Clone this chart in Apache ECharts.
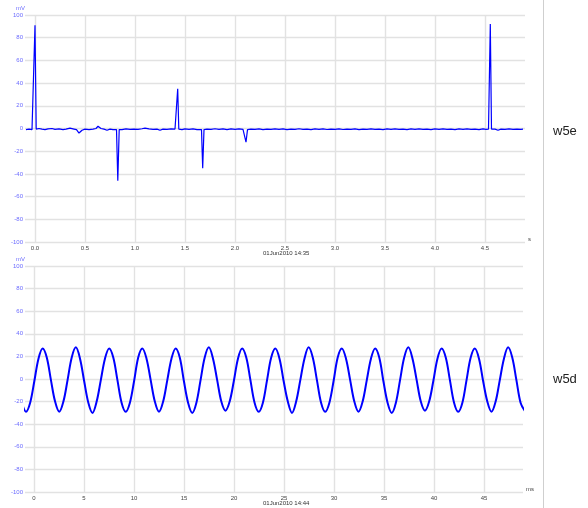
<!DOCTYPE html>
<html><head><meta charset="utf-8">
<script src="https://cdn.jsdelivr.net/npm/echarts@6/dist/echarts.min.js"></script>
<style>html,body{margin:0;padding:0;background:#fff}#c{width:588px;height:508px}</style>
</head><body><div id="c"></div>
<script>
// ---- data ----
const panelNames = ['w5e', 'w5d'];
const panelDates = ['01Jun2010 14:35', '01Jun2010 14:44'];
const yUnit = 'mV';
const topUnit = 's';
const bottomUnit = 'ms';
const topTicks = [0, 0.5, 1.0, 1.5, 2.0, 2.5, 3.0, 3.5, 4.0, 4.5];
const bottomTicks = [0, 5, 10, 15, 20, 25, 30, 35, 40, 45];

// top trace: [time s, mV]
const topSignal = [
  [-0.09,-1],[-0.06,-0.5],[-0.03,-1],[-0.012,-0.6],[0.0,91],[0.012,-0.5],[0.04,0],[0.07,-0.6],
  [0.1,-1],[0.13,-0.4],[0.17,0],[0.2,-0.8],[0.24,-0.3],[0.28,-1],[0.31,-0.5],[0.35,0.3],
  [0.39,-0.5],[0.415,-1],[0.44,-4],[0.47,-1.5],[0.5,-0.5],[0.54,-1],[0.58,-0.5],[0.61,0],
  [0.63,2],[0.66,0],[0.69,-0.5],[0.72,-1.5],[0.75,-0.5],[0.78,-1],[0.815,-1],[0.828,-46],
  [0.842,-1],[0.87,-1],[0.91,-0.3],[0.95,-0.8],[0.99,-0.5],[1.03,-0.8],[1.07,-0.2],[1.1,0.3],
  [1.14,-0.3],[1.18,-0.8],[1.22,-0.5],[1.25,-1.5],[1.28,-0.5],[1.32,-0.8],[1.36,-0.3],[1.4,-0.5],
  [1.417,-0.5],[1.427,35],[1.438,-0.5],[1.47,-1],[1.5,-0.3],[1.54,-0.8],[1.58,-0.3],[1.62,-1],
  [1.665,-1],[1.677,-35],[1.69,-1],[1.72,-0.5],[1.76,-0.8],[1.8,-0.2],[1.84,-0.7],[1.88,-0.3],
  [1.92,-1],[1.96,-0.4],[2.0,-0.8],[2.04,-0.3],[2.08,-0.8],[2.1,-1],[2.11,-12],[2.125,-1],
  [2.16,-0.5],[2.2,-0.8],[2.24,-0.3],[2.28,-1],[2.32,-0.5],[2.36,-0.8],[2.4,-0.3],[2.44,-0.7],
  [2.48,-0.4],[2.52,-1],[2.56,-0.5],[2.6,-0.7],[2.64,-0.2],[2.68,-0.8],[2.72,-0.5],[2.76,-1],
  [2.8,-0.4],[2.84,-0.7],[2.88,-0.3],[2.92,-0.9],[2.96,-0.5],[3.0,-0.7],[3.04,-0.3],[3.08,-0.9],
  [3.12,-0.5],[3.16,-0.8],[3.2,-0.4],[3.24,-1],[3.28,-0.5],[3.32,-0.7],[3.36,-0.3],[3.4,-0.8],
  [3.44,-0.5],[3.48,-1],[3.52,-0.4],[3.56,-0.7],[3.6,-0.3],[3.64,-0.8],[3.68,-0.5],[3.72,-1],
  [3.76,-0.4],[3.8,-0.7],[3.84,-0.3],[3.88,-0.8],[3.92,-0.5],[3.96,-1],[4.0,-0.4],[4.04,-0.7],
  [4.08,-0.3],[4.12,-0.8],[4.16,-0.5],[4.2,-1],[4.24,-0.4],[4.28,-0.7],[4.32,-0.3],[4.36,-0.8],
  [4.4,-0.5],[4.44,-1],[4.48,-0.4],[4.51,-0.7],[4.535,-0.5],[4.545,0],[4.553,92],[4.565,-0.5],
  [4.58,-2],[4.6,-0.5],[4.63,-1.5],[4.66,-0.5],[4.7,-0.8],[4.74,-0.4],[4.78,-0.8],[4.82,-0.6],
  [4.86,-0.7],[4.88,-0.6]
];

// bottom trace: sampled every bottomStepMs ms starting at bottomStartMs
const bottomStartMs = -1.2156;
const bottomStepMs = 0.4156;
const bottomValues = [
  -21,
  -29,-21,-2,18,27,19,-1,-20,
  -29,-20,-1,19,28,18,-2,-21,
  -30,-20,-1,18,27,19,-1,-21,
  -29,-21,-2,19,27,18,-1,-20,
  -29,-20,-1,18,27,19,-2,-21,
  -30,-21,-1,19,28,18,-1,-20,
  -28,-20,-2,18,27,19,-1,-21,
  -29,-21,-1,19,27,18,-2,-20,
  -30,-20,-1,18,28,19,-1,-21,
  -29,-21,-2,19,27,18,-1,-20,
  -29,-20,-1,18,27,19,-2,-21,
  -30,-21,-1,19,28,18,-1,-20,
  -28,-20,-2,18,27,19,-1,-21,
  -29,-21,-1,19,27,18,-2,-20,
  -29,-20,-1,18,28,19,-1,-21,
  -28
];

// ---- chart ----
const bottomSignal = bottomValues.map((v, i) => [bottomStartMs + i * bottomStepMs, v]);
const FONT = 'Liberation Sans, Arial, sans-serif';
const gridLine = { show: true, lineStyle: { color: '#e2e2e2', width: 1.4 } };

function makeX(gridIndex, min, max, ticks, unit, fmt) {
  return {
    gridIndex, type: 'value', min, max,
    axisLine: { show: false, onZero: false },
    axisTick: { show: false, customValues: ticks },
    axisLabel: { customValues: ticks, formatter: fmt, fontSize: 6, color: '#444', margin: 3, fontFamily: FONT },
    splitLine: gridLine,
    name: unit, nameLocation: 'end', nameGap: 3,
    nameTextStyle: { fontSize: 6, color: '#444', fontFamily: FONT, verticalAlign: 'bottom' }
  };
}
function makeY(gridIndex) {
  return {
    gridIndex, type: 'value', min: -100, max: 100, interval: 20,
    axisLine: { show: false, onZero: false }, axisTick: { show: false },
    axisLabel: { fontSize: 6, color: '#6b6bff', margin: 2, fontFamily: FONT },
    splitLine: gridLine,
    name: yUnit, nameLocation: 'end', nameGap: 4,
    nameTextStyle: { fontSize: 6, color: '#6b6bff', fontFamily: FONT, align: 'right' }
  };
}

const chart = echarts.init(document.getElementById('c'), null, { renderer: 'canvas' });
chart.setOption({
  animation: false,
  backgroundColor: '#fff',
  grid: [
    { left: 25, width: 500, top: 15, height: 227 },
    { left: 25, width: 498, top: 266, height: 226 }
  ],
  xAxis: [
    makeX(0, -0.1, 4.9, topTicks, topUnit, v => Number(v).toFixed(1)),
    makeX(1, -0.9, 48.9, bottomTicks, bottomUnit, v => String(v))
  ],
  yAxis: [makeY(0), makeY(1)],
  series: [
    { type: 'line', xAxisIndex: 0, yAxisIndex: 0, data: topSignal, showSymbol: false,
      lineStyle: { color: '#0000ff', width: 1.2 }, z: 3 },
    { type: 'line', xAxisIndex: 1, yAxisIndex: 1, data: bottomSignal, showSymbol: false, smooth: 0.35,
      lineStyle: { color: '#0000ff', width: 2 }, z: 3 }
  ],
  graphic: [
    { type: 'line', shape: { x1: 543.5, y1: 0, x2: 543.5, y2: 508 }, style: { stroke: '#cfcfcf', lineWidth: 1 } },
    { type: 'text', left: 553, top: 125, style: { text: panelNames[0], fontSize: 13, fill: '#222', font: '13px ' + FONT } },
    { type: 'text', left: 553, top: 373, style: { text: panelNames[1], fontSize: 13, fill: '#222', font: '13px ' + FONT } },
    { type: 'text', left: 263, top: 250, style: { text: panelDates[0], fill: '#333', font: '6px ' + FONT } },
    { type: 'text', left: 263, top: 500, style: { text: panelDates[1], fill: '#333', font: '6px ' + FONT } }
  ]
});
</script></body></html>
